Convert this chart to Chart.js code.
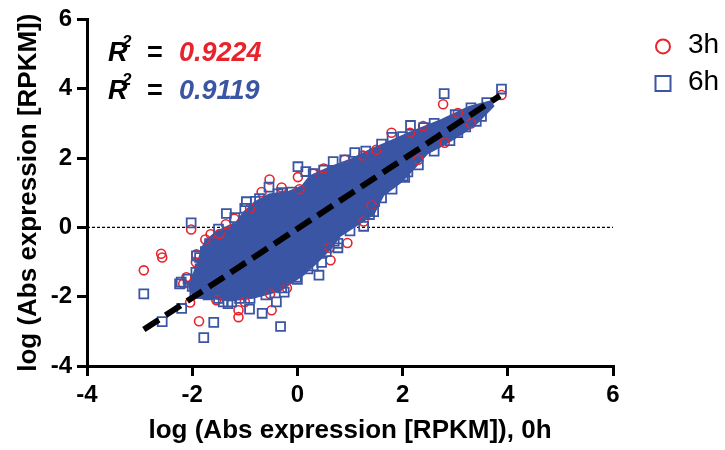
<!DOCTYPE html>
<html>
<head>
<meta charset="utf-8">
<script src="https://cdn.jsdelivr.net/npm/chart.js@4.4.0/dist/chart.umd.min.js"></script>
<style>
    html, body { margin: 0; padding: 0; background: #fff; }
    #wrap { width: 725px; height: 450px; }
</style>
</head>
<body>
<div id="wrap"><canvas id="myChart" width="725" height="450"></canvas></div>
<script>
// Series names and fit statistics
const seriesLabels = ["3h", "6h"];
const rSquared = ["0.9224", "0.9119"];

// Axis ticks
const xTicks = [-4, -2, 0, 2, 4, 6];
const yTicks = [-4, -2, 0, 2, 4, 6];

// 3h genes that stand out from the dense cloud (red circles)
const x3h = [-2.92, -2.59, -2.57, -1.87, -1.12, -1.12, -0.49, -2.02, 0.63, 0.61, -1.93, -1.92, -2.04, -1.54, -0.52, -0.53, 0.01, -1.36, -1.48, -0.68, 0.04, 1.50, 1.25, 1.79, 2.77, 2.14, 2.39, 3.88, 3.05, 2.80, 1.41, 1.26, -2.11, -2.17, -1.2, -0.9, -0.3, 0.3, 0.5, 0.9, -1.0, -0.2, 0.95, 2.3, 3.3, -1.65, -1.75];
const y3h = [-1.24, -0.76, -0.87, -2.71, -2.39, -2.59, -2.39, -0.06, -0.95, -0.59, -1.01, -0.78, -2.17, -2.10, -1.92, 1.38, 1.45, 0.09, -0.19, 1.02, 1.10, 2.24, 2.07, 2.73, 3.55, 2.73, 2.92, 3.82, 3.30, 2.44, 0.64, 0.17, -1.44, -1.63, 0.25, 0.55, 1.15, 1.55, 1.70, 1.95, -2.15, -1.75, -0.45, 1.95, 3.0, -0.2, -0.35];

// 6h genes outside / on the edge of the dense cloud (blue squares)
const x6h = [-2.92, -2.57, -1.78, -1.59, -0.91, -0.67, -0.32, 0.41, 0.46, -2.20, -1.32, -1.67, -1.86, -0.25, 0.77, 0.77, -2.02, -1.35, -0.97, -0.54, 0.01, -0.37, 0.68, 1.09, 2.79, 3.88, 2.15, 1.80, 1.37, 3.40, 3.05, 2.01, 1.37, 2.04, 1.47, 1.26, -0.02, 0.30, -1.25, -0.40, -1.41, -2.24, -1.79, -2.21, -2.08, -1.93, -1.92, -1.19, -0.72, -0.11, 0.16,
    -1.5, -1.0, -0.8, -0.3, 0.3, 0.5, 0.9, 1.3, 1.6, 2.0, 2.4, 2.6, 3.0, 3.3, 3.6,
    3.5, 3.2, 2.9, 2.6, 2.3, 2.1, 1.8, 1.6, 1.45, 1.0, 0.7, 0.55, 0.2, 0.0, -0.3, -0.6, -0.9, -1.1, -1.5, -1.7, -1.95, -2.0, -1.85, -1.75];
const y6h = [-1.92, -2.72, -3.18, -2.74, -2.36, -2.48, -2.86, -1.38, -1.01, -2.34, -2.20, -0.47, -0.87, -1.87, -0.59, -0.46, 0.13, 0.40, 0.74, 1.16, 1.75, 0.97, 1.90, 2.16, 3.86, 3.99, 2.94, 2.60, 1.88, 3.06, 2.73, 1.48, 0.37, 1.44, 0.74, 0.03, -1.44, -1.11, -2.15, -2.15, -2.15, -1.63, -1.06, -1.58, -1.49, -1.30, -0.82, 0.28, 0.83, 1.02, 1.61,
    -0.05, 0.55, 0.75, 1.0, 1.55, 1.65, 1.95, 2.2, 2.4, 2.62, 2.88, 3.0, 3.25, 3.45, 3.6,
    3.2, 2.9, 2.5, 2.2, 1.8, 1.6, 1.1, 0.85, 0.45, -0.1, -0.4, -0.7, -1.2, -1.5, -1.75, -1.95, -2.05, -2.05, -2.05, -1.95, -1.85, -1.7, -1.2, -0.7];

// Outline of the saturated cloud where thousands of markers overlap
const coreX = [-1.78, -1.72, -1.52, -1.15, -1.0, -0.80, -0.53, -0.15, 0.10, 0.25, 0.62, 1.05, 1.45, 1.75, 2.13, 2.76, 3.27, 3.66, 3.70, 3.41, 3.09, 2.76, 2.46, 2.19, 1.95, 1.62, 1.43, 1.13, 0.80, 0.61, 0.37, 0.10, -0.34, -0.85, -1.29, -1.61, -1.95, -2.04, -1.88, -1.78];
const coreY = [-0.55, -0.40, -0.15, 0.12, 0.42, 0.70, 0.92, 1.00, 1.16, 1.45, 1.70, 1.95, 2.25, 2.44, 2.70, 3.08, 3.45, 3.60, 3.50, 3.05, 2.70, 2.40, 2.16, 1.70, 1.32, 0.95, 0.40, 0.10, -0.22, -0.60, -0.97, -1.34, -1.80, -2.00, -2.08, -2.02, -2.00, -1.70, -1.05, -0.55];

// Regression line and zero reference
const fitX = [-2.92, 3.85];
const fitY = [-2.95, 3.80];
const zeroX = [-4, 6];
const zeroY = [0, 0];

const RED = "#e8232b";
const BLUE = "#3b55a5";
const FONT = "'Liberation Sans', Arial, sans-serif";

const toPoints = (xs, ys) => xs.map((x, i) => ({ x: x, y: ys[i] }));

// Legend and R² labels drawn on the canvas
const annotations = {
    id: "annotations",
    afterDraw(chart) {
        const ctx = chart.ctx;
        const area = chart.chartArea;
        const colors = [RED, BLUE];

        // R² lines
        rSquared.forEach((val, i) => {
            const x0 = area.left + 21;
            const y0 = area.top + 42 + i * 38;
            ctx.save();
            ctx.textBaseline = "alphabetic";
            ctx.textAlign = "left";
            ctx.fillStyle = "#000";
            ctx.font = "italic bold 27px " + FONT;
            ctx.fillText("R", x0, y0);
            ctx.font = "italic bold 17px " + FONT;
            ctx.fillText("2", x0 + 14, y0 - 14);
            ctx.font = "bold 27px " + FONT;
            ctx.fillText("=", x0 + 39, y0);
            ctx.fillStyle = colors[i];
            ctx.font = "italic bold 27px " + FONT;
            ctx.fillText(val, x0 + 71, y0);
            ctx.restore();
        });

        // Legend
        seriesLabels.forEach((lab, i) => {
            const cx = area.right + 50;
            const cy = area.top + 27 + i * 37;
            ctx.save();
            ctx.lineWidth = 2;
            ctx.strokeStyle = colors[i];
            ctx.beginPath();
            if (i === 0) {
                ctx.arc(cx, cy, 7, 0, Math.PI * 2);
            } else {
                ctx.rect(cx - 7.5, cy - 7.5, 15, 15);
            }
            ctx.stroke();
            ctx.fillStyle = "#000";
            ctx.font = "28px " + FONT;
            ctx.textBaseline = "middle";
            ctx.textAlign = "left";
            ctx.fillText(lab, cx + 25, cy - 1);
            ctx.restore();
        });
    }
};

const ctx = document.getElementById("myChart").getContext("2d");

new Chart(ctx, {
    type: "scatter",
    data: {
        datasets: [
            {
                type: "line",
                data: toPoints(zeroX, zeroY),
                borderColor: "#000",
                borderWidth: 1.3,
                borderDash: [3, 2],
                pointRadius: 0,
                fill: false,
                order: 10
            },
            {
                type: "line",
                data: toPoints(coreX, coreY),
                borderColor: BLUE,
                backgroundColor: BLUE,
                borderWidth: 4,
                pointRadius: 0,
                tension: 0,
                fill: "shape",
                order: 9
            },
            {
                label: seriesLabels[0],
                data: toPoints(x3h, y3h),
                pointStyle: "circle",
                pointRadius: 4.5,
                borderWidth: 1.6,
                borderColor: RED,
                backgroundColor: "rgba(0,0,0,0)",
                order: 8
            },
            {
                label: seriesLabels[1],
                data: toPoints(x6h, y6h),
                pointStyle: "rect",
                pointRadius: 6.3,
                borderWidth: 1.8,
                borderColor: BLUE,
                backgroundColor: "rgba(0,0,0,0)",
                order: 7
            },
            {
                type: "line",
                data: toPoints(fitX, fitY),
                borderColor: "#000",
                borderWidth: 6,
                borderDash: [18, 8],
                pointRadius: 0,
                fill: false,
                order: 1
            }
        ]
    },
    options: {
        responsive: false,
        animation: false,
        layout: { padding: { top: 15, right: 112, bottom: 0, left: 0 } },
        plugins: {
            legend: { display: false },
            tooltip: { enabled: false }
        },
        scales: {
            x: {
                type: "linear",
                min: -4,
                max: 6,
                afterBuildTicks: function (scale) {
                    scale.ticks = xTicks.map(v => ({ value: v }));
                },
                afterFit: function (scale) { scale.height = 84; },
                grid: { drawOnChartArea: false, drawTicks: true, tickLength: 10, color: "#000", lineWidth: 3 },
                border: { display: true, color: "#000", width: 3 },
                ticks: { color: "#000", padding: 5, font: { family: FONT, size: 24, weight: "bold" } },
                title: {
                    display: true,
                    text: "log (Abs expression [RPKM]), 0h",
                    color: "#000",
                    font: { family: FONT, size: 26, weight: "bold" },
                    padding: { top: 0, bottom: 4 }
                }
            },
            y: {
                type: "linear",
                min: -4,
                max: 6,
                afterBuildTicks: function (scale) {
                    scale.ticks = yTicks.map(v => ({ value: v }));
                },
                afterFit: function (scale) { scale.width = 87; },
                grid: { drawOnChartArea: false, drawTicks: true, tickLength: 10, color: "#000", lineWidth: 3 },
                border: { display: true, color: "#000", width: 3 },
                ticks: { color: "#000", padding: 5, font: { family: FONT, size: 24, weight: "bold" } },
                title: {
                    display: true,
                    text: "log (Abs expression [RPKM])",
                    color: "#000",
                    font: { family: FONT, size: 26, weight: "bold" },
                    padding: { top: 13, bottom: 0 }
                }
            }
        }
    },
    plugins: [annotations]
});
</script>
</body>
</html>
